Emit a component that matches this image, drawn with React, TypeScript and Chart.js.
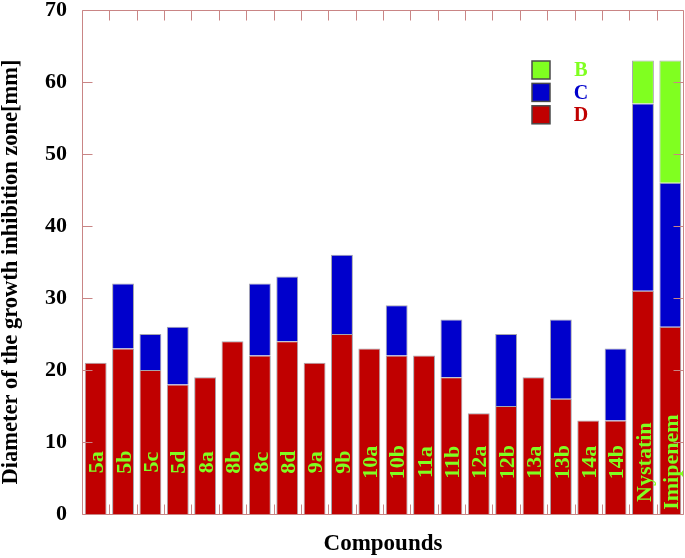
import React, { useEffect, useRef } from "react";
import { Chart, registerables } from "chart.js";

Chart.register(...registerables);

const categories = [
  "5a", "5b", "5c", "5d", "8a", "8b", "8c", "8d", "9a", "9b", "10a",
  "10b", "11a", "11b", "12a", "12b", "13a", "13b", "14a", "14b", "Nystatin", "Imipenem",
];
const seriesD = [21, 23, 20, 18, 19, 24, 22, 24, 21, 25, 23, 22, 22, 19, 14, 15, 19, 16, 13, 13, 31, 26];
const seriesC = [null, 9, 5, 8, null, null, 10, 9, null, 11, null, 7, null, 8, null, 10, null, 11, null, 10, 26, 20];
const seriesB = [null, null, null, null, null, null, null, null, null, null, null, null, null, null, null, null, null, null, null, null, 6, 17];
const yMin = 0;
const yMax = 70;
const yStep = 10;

const RED = "#c00000";
const BLUE = "#0000cc";
const GREEN = "#80ff20";
const FRAME = "#c98585";
const SERIF = '"Liberation Serif", "DejaVu Serif", serif';
const LABEL_LEVEL = 7.2;

const decorPlugin = {
  id: "decor",
  afterDatasetsDraw(chart: any) {
    const { ctx, chartArea, scales } = chart;
    const { left, right, top, bottom } = chartArea;
    const x = scales.x;
    const y = scales.y;
    ctx.save();

    // category labels inside bars
    ctx.font = `bold 22px ${SERIF}`;
    ctx.fillStyle = GREEN;
    ctx.textAlign = "center";
    ctx.textBaseline = "middle";
    const ly = y.getPixelForValue(LABEL_LEVEL);
    categories.forEach((c, i) => {
      const px = x.getPixelForValue(i);
      ctx.save();
      ctx.translate(px + 2, ly);
      ctx.rotate(-Math.PI / 2);
      ctx.fillText(c, 0, 0);
      ctx.restore();
    });

    // frame
    const L = Math.round(left) + 0.5;
    const R = Math.round(right) - 0.5;
    const T = Math.round(top) + 0.5;
    const B = Math.round(bottom) + 0.5;
    ctx.strokeStyle = FRAME;
    ctx.lineWidth = 1;
    ctx.beginPath();
    ctx.moveTo(L, T); ctx.lineTo(R, T); ctx.lineTo(R, B); ctx.lineTo(L, B); ctx.closePath();
    ctx.stroke();

    // y ticks (inward, left and right)
    ctx.beginPath();
    y.ticks.forEach((t: any) => {
      const py = Math.round(y.getPixelForValue(t.value)) + 0.5;
      ctx.moveTo(L, py); ctx.lineTo(L + 10, py);
      ctx.moveTo(R, py); ctx.lineTo(R - 10, py);
    });
    // x ticks at category boundaries (inward, top and bottom)
    for (let i = 1; i < categories.length; i++) {
      const bx = Math.round((x.getPixelForValue(i - 1) + x.getPixelForValue(i)) / 2) + 0.5;
      ctx.moveTo(bx, T); ctx.lineTo(bx, T + 10);
      ctx.moveTo(bx, B); ctx.lineTo(bx, B - 10);
    }
    ctx.stroke();

    // legend (reverse dataset order)
    const ds = chart.data.datasets.slice().reverse();
    ds.forEach((d: any, k: number) => {
      const by = 61 + k * 22.4;
      ctx.fillStyle = d.backgroundColor;
      ctx.fillRect(532, by, 18, 18);
      ctx.strokeStyle = "#4a4a4a";
      ctx.lineWidth = 1.5;
      ctx.strokeRect(532, by, 18, 18);
      ctx.font = `bold 20px ${SERIF}`;
      ctx.fillStyle = d.backgroundColor;
      ctx.textAlign = "center";
      ctx.textBaseline = "middle";
      ctx.fillText(d.label, 581, by + 10);
    });

    // y axis title
    ctx.font = `bold 22.5px ${SERIF}`;
    ctx.fillStyle = "#000";
    ctx.textAlign = "center";
    ctx.textBaseline = "middle";
    ctx.save();
    ctx.translate(11, 272);
    ctx.rotate(-Math.PI / 2);
    ctx.fillText("Diameter of the growth inhibition zone[mm]", 0, 0);
    ctx.restore();

    ctx.restore();
  },
};

export default function App() {
  const ref = useRef<HTMLCanvasElement | null>(null);
  useEffect(() => {
    if (!ref.current) return;
    const barStyle = { borderColor: "rgba(150,150,160,0.85)", borderWidth: 1, barPercentage: 0.8, categoryPercentage: 1 };
    const chart = new Chart(ref.current, {
      type: "bar",
      data: {
        labels: categories,
        datasets: [
          { label: "D", data: seriesD, backgroundColor: RED, ...barStyle },
          { label: "C", data: seriesC, backgroundColor: BLUE, ...barStyle },
          { label: "B", data: seriesB, backgroundColor: GREEN, ...barStyle },
        ],
      },
      options: {
        responsive: false,
        animation: false,
        layout: { padding: { top: 10, right: 1, left: 0, bottom: 0 } },
        plugins: { legend: { display: false }, tooltip: { enabled: false } },
        scales: {
          x: {
            stacked: true,
            grid: { display: false, drawTicks: false },
            border: { display: false },
            ticks: { display: false },
            title: {
              display: true,
              text: "Compounds",
              color: "#000",
              font: { family: SERIF, size: 23, weight: "bold" },
              padding: { top: 0, bottom: 0 },
            },
            afterFit: (s: any) => { s.height = 44; s.paddingLeft = 0; s.paddingRight = 0; },
          },
          y: {
            stacked: true,
            min: yMin,
            max: yMax,
            grid: { display: false, drawTicks: false },
            border: { display: false },
            ticks: {
              stepSize: yStep,
              padding: 15,
              color: "#000",
              font: { family: SERIF, size: 22, weight: "bold" },
            },
            afterFit: (s: any) => { s.width = 82; s.paddingTop = 0; s.paddingBottom = 0; },
          },
        },
      },
      plugins: [decorPlugin],
    });
    return () => chart.destroy();
  }, []);
  return (
    <div style={{ position: "fixed", left: 0, top: 0, width: 685, height: 558, background: "#fff" }}>
      <canvas ref={ref} width={685} height={558} style={{ display: "block" }} />
    </div>
  );
}
